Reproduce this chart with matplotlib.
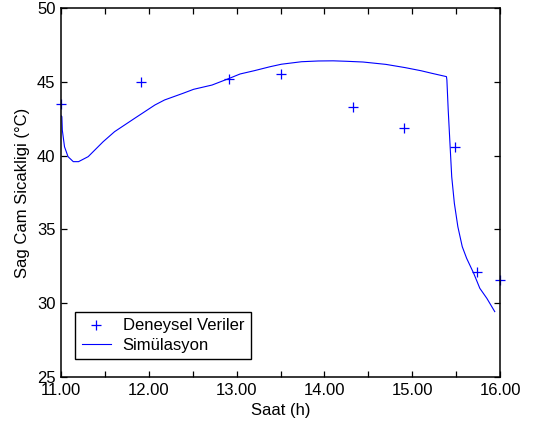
import matplotlib
matplotlib.use("Agg")
import matplotlib.pyplot as plt

plt.rcParams['font.family'] = ['Liberation Sans', 'DejaVu Sans']

# measured glass temperature (hour of day, deg C)
saat_olcum = [11.00, 11.91, 12.91, 13.50, 14.33, 14.91, 15.49, 15.74, 16.00]
sicaklik_olcum = [43.5, 45.0, 45.2, 45.5, 43.3, 41.9, 40.6, 32.1, 31.6]

# simulation output
saat_sim = [11.00, 11.01, 11.015, 11.04, 11.08, 11.14, 11.20, 11.31, 11.48, 11.61,
            11.84, 12.07, 12.18, 12.39, 12.51, 12.72, 12.92, 13.04, 13.20, 13.38,
            13.51, 13.74, 13.93, 14.10, 14.25, 14.44, 14.70, 14.92, 15.10, 15.22,
            15.39, 15.395, 15.41, 15.43, 15.45, 15.48, 15.52, 15.57, 15.62, 15.70,
            15.77, 15.85, 15.94]
sicaklik_sim = [42.7, 42.64, 41.73, 40.6, 39.93, 39.59, 39.59, 39.93, 40.94, 41.62,
                42.53, 43.43, 43.77, 44.22, 44.49, 44.78, 45.24, 45.53, 45.75, 46.02,
                46.19, 46.36, 46.41, 46.42, 46.39, 46.34, 46.18, 45.96, 45.75, 45.58,
                45.35, 45.12, 43.09, 40.83, 38.57, 36.77, 35.18, 33.83, 33.04, 32.03,
                31.01, 30.33, 29.43]

xticks = [11, 11.5, 12, 12.5, 13, 13.5, 14, 14.5, 15, 15.5, 16]
xticklabels = ['11.00', '', '12.00', '', '13.00', '', '14.00', '', '15.00', '', '16.00']
yticks = [25, 30, 35, 40, 45, 50]

fig = plt.figure(figsize=(5.35, 4.32), dpi=100)
ax = fig.add_axes([0.114, 0.1273, 0.8206, 0.8542])

ax.plot(saat_olcum, sicaklik_olcum, '+', color='#0000ff', markersize=7,
        markeredgewidth=0.9, label='Deneysel Veriler', clip_on=False)
ax.plot(saat_sim, sicaklik_sim, '-', color='#0000ff', linewidth=0.8, label='Simülasyon')

ax.set_xlim(11, 16)
ax.set_ylim(25, 50)
ax.set_xticks(xticks)
ax.set_xticklabels(xticklabels)
ax.set_yticks(yticks)
ax.tick_params(direction='in', length=4, width=0.9, top=True, right=True,
               labelsize=12, pad=4)
for s in ax.spines.values():
    s.set_linewidth(1.1)

ax.set_xlabel('Saat (h)', fontsize=12, labelpad=4)
ax.set_ylabel('Sag Cam Sicakligi (°C)', fontsize=12, labelpad=5)

leg = ax.legend(loc='lower left', bbox_to_anchor=(0.032, 0.048), fontsize=12,
                fancybox=False, framealpha=1, edgecolor='black',
                borderpad=0.4, labelspacing=0.25, handlelength=1.75,
                handletextpad=0.7, borderaxespad=0)
leg.get_frame().set_linewidth(1.0)

fig.savefig('out.png', dpi=100)
